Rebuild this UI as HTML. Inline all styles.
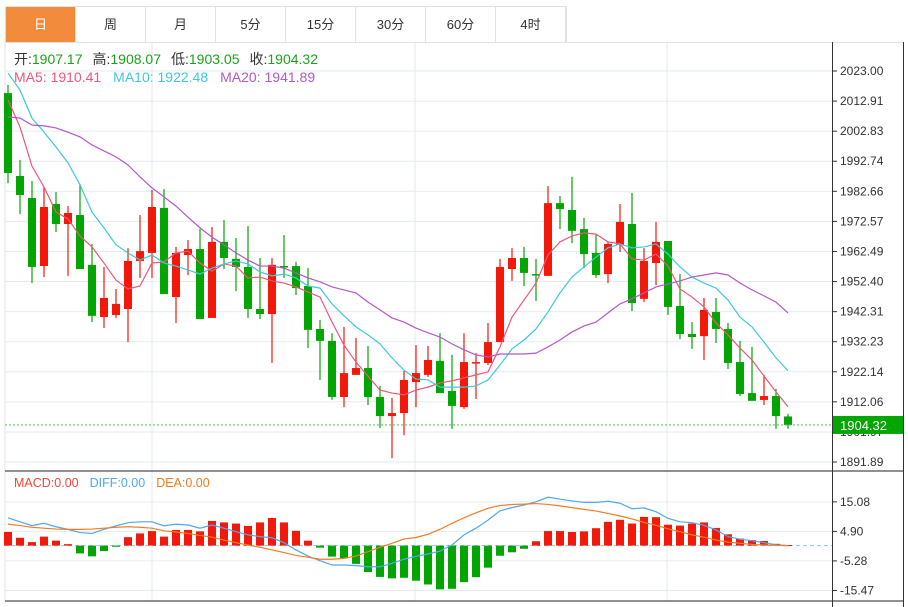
<!DOCTYPE html>
<html><head><meta charset="utf-8">
<style>
body{margin:0;background:#fff;width:908px;height:607px;overflow:hidden;font-family:"Liberation Sans","Noto Sans CJK SC",sans-serif;}
#tabs{position:absolute;left:5px;top:6px;height:36px;display:flex;border:1px solid #dfe3e8;border-bottom:none;}
.tab{width:69px;height:36px;line-height:36px;text-align:center;font-size:13px;color:#333;border-right:1px solid #dfe3e8;}
.tab.on{background:#f28c3c;color:#fff;}
svg{position:absolute;left:0;top:0;}
</style></head><body>
<div id="tabs">
<div class="tab on">日</div>
<div class="tab">周</div>
<div class="tab">月</div>
<div class="tab">5分</div>
<div class="tab">15分</div>
<div class="tab">30分</div>
<div class="tab">60分</div>
<div class="tab">4时</div>
</div>
<svg id="chart" width="908" height="607"></svg>
<script>
const opens=[2015.6,1987.8,1980.4,1957.6,1978.4,1971.7,1974.7,1958.0,1940.5,1941.2,1943.2,1959.3,1962.0,1977.1,1947.2,1961.3,1963.3,1940.2,1965.7,1960.0,1957.3,1943.2,1941.5,1957.6,1957.6,1950.9,1936.5,1932.5,1913.7,1921.1,1923.4,1913.7,1907.3,1908.3,1918.7,1921.1,1925.8,1915.7,1910.3,1925.1,1925.1,1932.1,1956.6,1960.3,1954.9,1954.3,1978.7,1976.4,1970.0,1962.0,1954.9,1964.7,1971.7,1946.6,1958.6,1966.0,1944.2,1934.8,1934.1,1942.2,1936.5,1925.4,1915.0,1912.7,1914.0,1907.17];
const closes=[1988.8,1981.4,1957.3,1977.4,1971.7,1975.4,1956.6,1940.9,1946.9,1944.9,1959.3,1962.6,1977.4,1948.2,1962.0,1963.3,1939.8,1965.7,1960.3,1957.3,1943.2,1941.5,1958.0,1957.3,1950.2,1936.2,1932.5,1913.7,1921.7,1923.4,1913.7,1907.3,1908.3,1919.4,1921.7,1926.1,1915.0,1910.7,1925.4,1925.4,1932.1,1957.3,1960.3,1955.3,1954.6,1978.7,1976.7,1969.4,1961.6,1954.6,1965.0,1972.4,1945.2,1959.3,1965.7,1943.9,1934.8,1933.8,1942.9,1936.5,1925.1,1914.7,1912.4,1914.0,1907.3,1904.32];
const highs=[2018.3,1993.2,1986.1,1984.1,1982.4,1977.7,1985.1,1965.0,1957.3,1949.9,1963.6,1974.7,1983.1,1983.4,1964.0,1966.3,1970.0,1970.7,1973.0,1967.0,1971.0,1960.3,1960.3,1968.0,1959.0,1956.9,1939.5,1935.1,1937.2,1933.5,1930.8,1917.4,1913.4,1922.4,1931.1,1930.8,1935.1,1927.8,1935.1,1928.4,1938.5,1960.0,1963.6,1964.0,1960.0,1984.4,1981.1,1987.5,1973.7,1968.0,1965.7,1978.4,1982.1,1963.6,1972.4,1966.0,1954.9,1938.8,1946.9,1946.9,1938.5,1932.5,1930.5,1921.1,1916.4,1908.07];
const lows=[1985.4,1975.0,1951.9,1953.9,1969.0,1954.3,1956.6,1938.8,1936.8,1940.2,1932.1,1953.6,1953.6,1948.2,1938.5,1954.6,1939.8,1940.2,1956.6,1949.2,1940.2,1939.8,1925.1,1953.6,1947.9,1930.1,1919.4,1912.7,1910.3,1921.1,1911.0,1903.3,1893.2,1900.9,1910.3,1920.4,1915.0,1903.0,1909.7,1913.0,1924.4,1932.1,1952.6,1950.9,1945.9,1954.3,1970.0,1965.3,1956.9,1953.6,1951.9,1962.3,1942.5,1945.5,1951.2,1941.2,1933.1,1929.8,1926.1,1931.8,1923.1,1914.0,1912.4,1911.0,1903.0,1903.05];
const ma5=[2013.3,2004.2,1991.1,1984.1,1975.7,1973.4,1967.7,1964.0,1958.6,1952.9,1949.9,1950.9,1958.6,1959.0,1962.0,1962.6,1958.6,1955.9,1958.3,1957.6,1953.6,1953.9,1952.6,1951.9,1950.6,1948.9,1947.2,1938.8,1931.1,1925.4,1920.7,1916.0,1915.0,1914.4,1916.0,1917.0,1918.4,1919.1,1920.1,1921.1,1922.1,1930.5,1940.5,1946.2,1951.9,1961.3,1965.7,1967.7,1968.7,1968.3,1965.7,1965.0,1960.0,1959.6,1961.6,1957.6,1949.9,1947.2,1943.9,1938.5,1934.5,1930.1,1926.1,1920.7,1915.4,1910.41];
const ma10=[2022.3,2016.6,2007.2,2002.5,1997.5,1992.2,1984.8,1975.7,1970.4,1964.7,1962.0,1959.6,1961.3,1958.6,1957.6,1956.3,1954.9,1956.9,1958.3,1959.3,1958.3,1955.6,1954.3,1954.9,1953.6,1950.9,1950.2,1944.9,1940.9,1937.2,1934.5,1931.5,1926.8,1922.7,1919.7,1919.4,1917.0,1917.0,1917.0,1917.4,1919.4,1924.4,1929.8,1932.8,1936.5,1942.2,1948.6,1953.9,1957.3,1960.6,1963.7,1965.0,1963.7,1964.0,1965.0,1961.6,1957.3,1953.9,1951.9,1950.2,1946.2,1940.5,1937.2,1932.1,1926.8,1922.48];
const ma20=[2007.6,2007.2,2004.9,2004.6,2003.9,2002.5,2000.9,1998.2,1996.2,1994.2,1991.5,1987.5,1983.8,1980.8,1977.7,1974.0,1970.4,1967.3,1964.7,1962.0,1959.6,1957.6,1957.6,1956.9,1955.3,1953.6,1952.3,1950.6,1949.6,1948.6,1945.5,1942.9,1940.2,1938.8,1936.8,1935.2,1933.8,1931.5,1929.5,1927.8,1927.1,1928.1,1928.1,1928.1,1928.4,1930.5,1932.8,1935.5,1937.5,1938.8,1941.9,1944.9,1946.6,1948.6,1950.6,1951.6,1952.6,1953.9,1954.6,1955.3,1954.6,1951.9,1949.6,1947.6,1945.5,1941.89];
const macdBars=[4.7,2.7,1.2,3.1,1.7,0.5,-2.7,-3.7,-1.9,-0.4,2.9,4.2,5.0,3.1,5.4,5.4,4.9,8.5,8.0,7.6,6.8,8.0,9.5,8.0,5.1,1.7,-0.7,-3.8,-4.4,-6.3,-9.1,-10.8,-11.3,-11.1,-12.1,-13.4,-15.1,-14.9,-12.6,-10.9,-7.6,-3.5,-2.3,-1.1,1.5,5.0,5.0,4.7,4.9,6.0,8.2,8.9,7.6,9.9,9.8,7.2,6.9,7.6,8.0,6.1,3.9,2.4,1.9,1.6,0.6,0.2];
const diff=[9.6,8.2,6.9,7.7,6.5,5.6,4.5,4.2,5.6,6.8,7.9,8.2,8.2,6.8,7.4,7.1,6.0,7.1,6.0,4.8,3.7,3.1,2.7,1.0,-1.5,-3.6,-5.2,-6.7,-6.7,-6.9,-7.3,-7.3,-6.1,-4.7,-3.7,-2.9,-1.9,0.2,3.7,6.0,8.8,12.0,13.1,14.0,15.1,16.7,16.0,15.4,14.9,14.9,15.3,14.6,12.7,13.0,11.7,9.4,8.2,7.9,7.0,5.4,3.1,2.2,1.7,1.0,0.3,0.0];
const dea=[7.4,6.9,6.3,6.0,5.7,5.6,5.6,5.7,6.0,6.3,6.5,6.3,6.0,5.1,4.7,4.2,3.5,2.9,1.9,1.0,0.2,-0.6,-1.5,-2.4,-3.4,-4.0,-4.7,-4.7,-4.4,-3.6,-2.1,-0.6,0.8,2.3,2.8,3.9,5.6,7.7,9.6,11.3,12.9,13.8,14.2,14.3,14.5,14.2,13.7,13.1,12.5,11.9,11.1,10.2,9.2,8.0,7.0,5.8,4.8,3.7,2.9,1.9,1.2,0.8,0.4,0.2,0.1,0.0];
const priceTicks=["2023.00","2012.91","2002.83","1992.74","1982.66","1972.57","1962.49","1952.40","1942.31","1932.23","1922.14","1912.06","1901.97","1891.89"];
const macdTicks=["15.08","4.90","-5.28","-15.47"];

const NS="http://www.w3.org/2000/svg";
const svg=document.getElementById('chart');
function mk(tag,attrs,parent){const e=document.createElementNS(NS,tag);for(const k in attrs)e.setAttribute(k,attrs[k]);(parent||svg).appendChild(e);return e;}
const pTop=2023.00,pBot=1891.89,yTop=71,yBot=462;
const py=p=>yTop+(pTop-p)*(yBot-yTop)/(pTop-pBot);
const mZero=545.6,mScale=2.9;
const my=v=>mZero-v*mScale;
const xi=i=>8+12*i;
const AX=832,RIGHT=903,LEFT=5;
const RED="#f2180a",GREEN="#03a503";

let g=mk('g',{});


priceTicks.forEach(t=>{const y=py(parseFloat(t));mk('line',{x1:LEFT,x2:AX,y1:y,y2:y,stroke:'#e6ebf0','stroke-width':1},g);});
macdTicks.forEach(t=>{const y=my(parseFloat(t));mk('line',{x1:LEFT,x2:AX,y1:y,y2:y,stroke:'#e6ebf0','stroke-width':1},g);});
[152,415,667].forEach(x=>{mk('line',{x1:x,x2:x,y1:42,y2:601,stroke:'#e6ebf0'},g);});
mk('line',{x1:LEFT,x2:LEFT,y1:42,y2:601,stroke:'#dfe3e8'},g);
mk('line',{x1:LEFT,x2:RIGHT,y1:42.5,y2:42.5,stroke:'#dfe3e8'},g);
mk('line',{x1:LEFT,x2:RIGHT,y1:471,y2:471,stroke:'#222'},g);
mk('line',{x1:LEFT,x2:RIGHT,y1:601,y2:601,stroke:'#222'},g);
mk('line',{x1:AX+0.5,x2:AX+0.5,y1:42,y2:607,stroke:'#333'},g);
mk('line',{x1:RIGHT+0.5,x2:RIGHT+0.5,y1:42,y2:607,stroke:'#333'},g);

const cg=mk('g',{});


opens.forEach((o,i)=>{
  const c=closes[i],col=c>=o?RED:GREEN,x=xi(i);
  const w=mk('line',{x1:x,x2:x,y1:py(highs[i]),y2:py(lows[i]),stroke:col,'stroke-width':1.2},cg);
  
  
  const top=py(Math.max(o,c)),h=Math.max(1.5,Math.abs(py(o)-py(c)));
  const r=mk('rect',{x:x-4,y:top,width:8,height:h,fill:col},cg);
  
  
});
function line(arr,fy,col,name){
  const p=mk('polyline',{points:arr.map((v,i)=>xi(i)+','+fy(v)).join(' '),fill:'none',stroke:col,'stroke-width':1.2});
  
  
}
line(ma5,py,'#f0557a','ma5-line');
line(ma10,py,'#3ec8dc','ma10-line');
line(ma20,py,'#b458c8','ma20-line');

const lp=py(closes[closes.length-1]);
const dl=mk('line',{x1:LEFT,x2:AX,y1:lp,y2:lp,stroke:'#5cc85c','stroke-dasharray':'2,2','stroke-width':1.2});



priceTicks.forEach(t=>{const y=py(parseFloat(t));
  mk('line',{x1:AX,x2:AX+5,y1:y,y2:y,stroke:'#333'});
  const tx=mk('text',{x:AX+8,y:y+4,'font-size':12,fill:'#333'});tx.textContent=t;
  
  
});
const lb=mk('rect',{x:AX+1,y:lp-9,width:RIGHT-AX-1,height:18,fill:'#04a604'});


const lt=mk('text',{x:AX+8,y:lp+5,'font-size':13,fill:'#fff'});lt.textContent=closes[closes.length-1].toFixed(2);



const zl=mk('line',{x1:LEFT,x2:AX,y1:mZero,y2:mZero,stroke:'#8cc8e8','stroke-dasharray':'4,3'});


macdBars.forEach((v,i)=>{
  const y=Math.min(my(v),mZero),h=Math.max(1,Math.abs(my(v)-mZero));
  const r=mk('rect',{x:xi(i)-4,y:y,width:8,height:h,fill:v>=0?RED:GREEN});
  
  
});
line(diff,my,'#4ea8ef','diff-line');
line(dea,my,'#f57b20','dea-line');
macdTicks.forEach(t=>{const y=my(parseFloat(t));
  mk('line',{x1:AX,x2:AX+5,y1:y,y2:y,stroke:'#333'});
  const tx=mk('text',{x:AX+8,y:y+4,'font-size':12,fill:'#333'});tx.textContent=t;
  
  
});

function legend(y,size,parts,name){
  const t=mk('text',{x:14,y:y,'font-size':size});
  
  
  parts.forEach(([s,c,dx])=>{const sp=mk('tspan',{fill:c},t);if(dx)sp.setAttribute('dx',dx);sp.textContent=s;});
}
legend(64,14,[["开:","#333"],["1907.17","#1aa31a"],["高:","#333",10],["1908.07","#1aa31a"],["低:","#333",10],["1903.05","#1aa31a"],["收:","#333",10],["1904.32","#1aa31a"]],'ohlc-legend');
legend(82,14,[["MA5: 1910.41","#f0557a"],["MA10: 1922.48","#3ec8dc",12],["MA20: 1941.89","#b458c8",12]],'ma-legend');
legend(487,12.5,[["MACD:0.00","#f2453a"],["DIFF:0.00","#4ea8ef",11],["DEA:0.00","#f57b20",11]],'macd-legend');
</script>
</body></html>
